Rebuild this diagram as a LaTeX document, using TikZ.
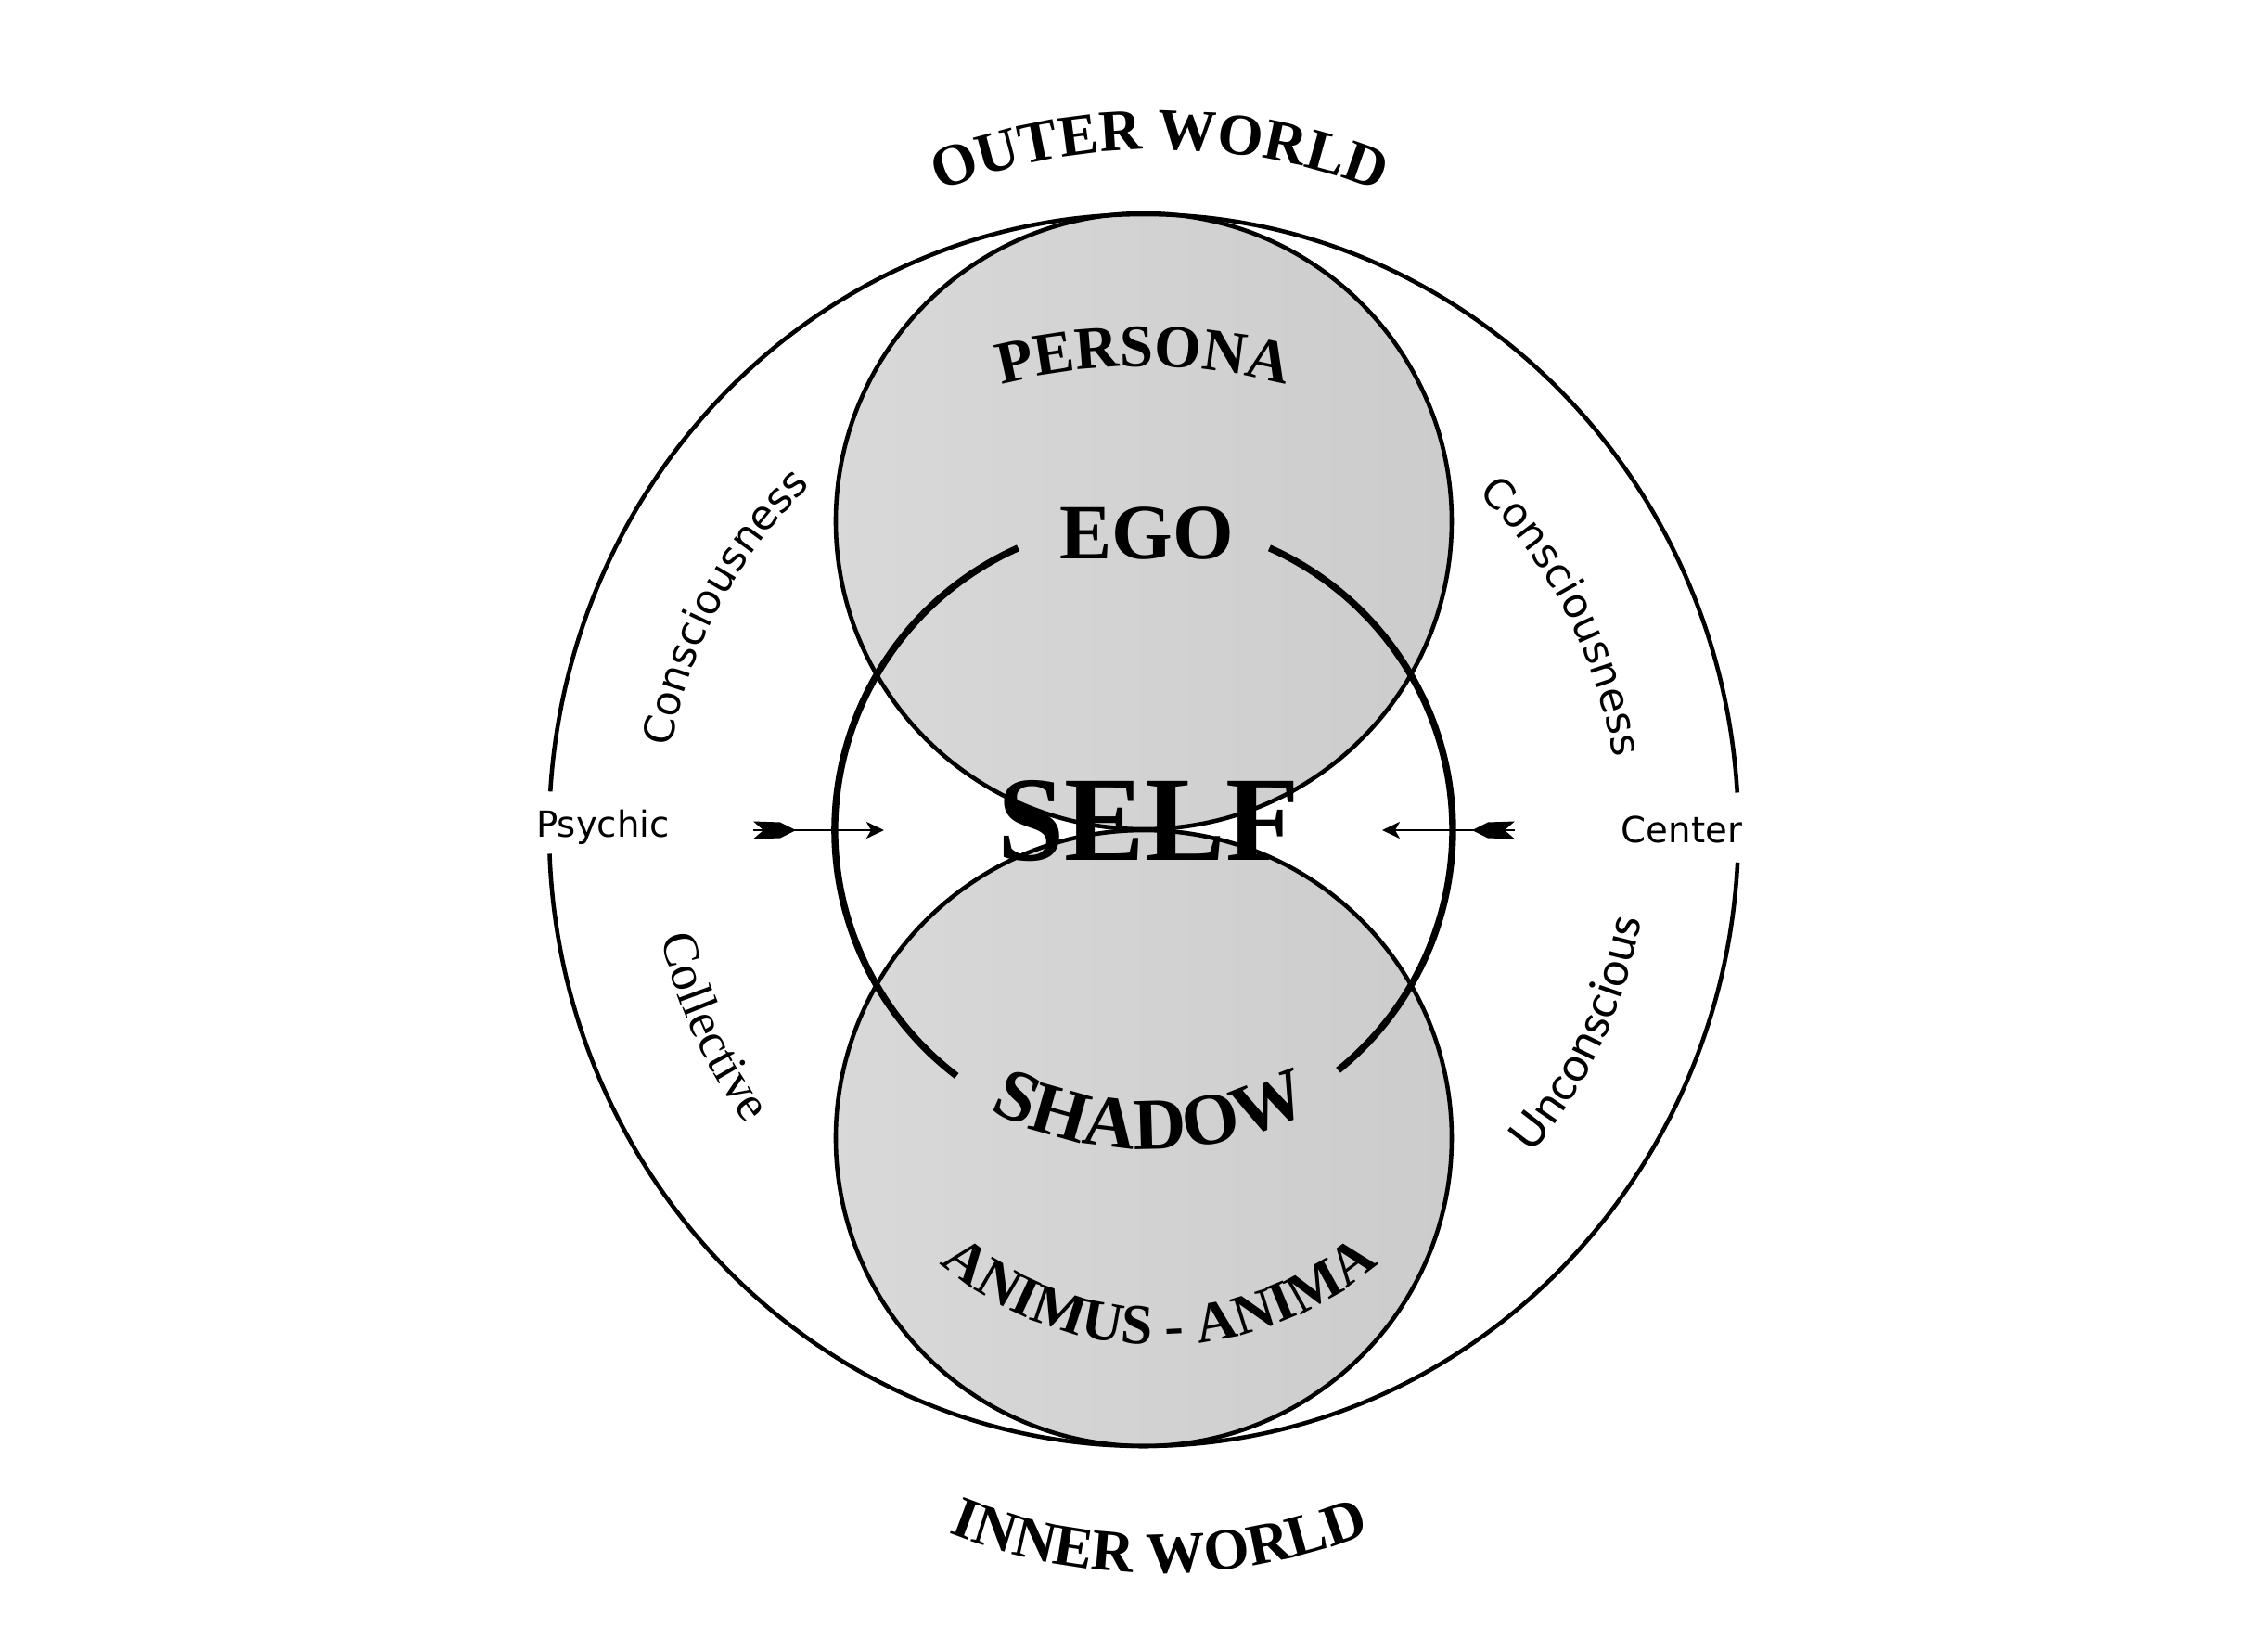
\documentclass[tikz,border=0pt]{standalone}
\usepackage{fontspec}
\setmainfont{Liberation Serif}
\newfontfamily\sanslabel{DejaVu Sans}
\newfontfamily\optlabel{Lato}
\usetikzlibrary{arrows.meta,decorations.text}

\newcommand\worldfont{\bfseries\fontsize{18}{22}\selectfont}
\newcommand\partfont{\bfseries\fontsize{18.5}{22}\selectfont}
\newcommand\shadowfont{\bfseries\fontsize{22.5}{26}\selectfont}
\newcommand\animafont{\bfseries\fontsize{17.5}{21}\selectfont}
\newcommand\levelfont{\sanslabel\fontsize{12.6}{15}\selectfont}

\begin{document}
\begin{tikzpicture}[
  ring/.style={line width=1.3pt},
  selfring/.style={line width=2.1pt},
  ball/.style={left color=gray!30, middle color=gray!9, right color=gray!40},
  pointer/.style={line width=0.7pt, -{Stealth[length=1.9mm,width=1.8mm,inset=0.5mm]}},
  side/.style={font=\sanslabel\fontsize{11}{13}\selectfont, anchor=base}
]
\useasboundingbox (-12.33,-8.85) rectangle (11.99,8.95);

\coordinate (o) at (0,0);
\coordinate (up) at (0,3.33);
\coordinate (down) at (0,-3.32);

% the two shaded spheres
\shade[ball] (up) circle[radius=3.32];
\shade[ball] (down) circle[radius=3.32];
\draw[ring] (up) circle[radius=3.32];
\draw[ring] (down) circle[radius=3.32];

% outer psyche, open at the sides
\draw[ring] (o) ++(3.5:6.41 and 6.64) arc[start angle=3.5, end angle=176.4, x radius=6.41, y radius=6.64];
\draw[ring] (o) ++(182.2:6.41 and 6.64) arc[start angle=182.2, end angle=357, x radius=6.41, y radius=6.64];

% self circle, open at ego and shadow
\draw[selfring] (o) ++(114:3.33) arc[start angle=114, end angle=232.7, radius=3.33];
\draw[selfring] (o) ++(-51:3.33) arc[start angle=-51, end angle=66, radius=3.33];

% arrows to the centre
\coordinate (ltail) at (-4.21,0);
\coordinate (lhead) at (-2.80,0);
\coordinate (rtail) at (4.00,0);
\coordinate (rhead) at (2.57,0);
\draw[pointer] (ltail) -- (lhead);
\draw[pointer] (rtail) -- (rhead);
\fill (ltail) ++(0,0.095) -- ++(0.29,-0.01) -- ++(0.17,-0.085) -- ++(-0.17,-0.085) -- ++(-0.29,-0.01) -- ++(0.11,0.095) -- cycle;
\fill (rtail) ++(0,0.095) -- ++(-0.29,-0.01) -- ++(-0.17,-0.085) -- ++(0.17,-0.085) -- ++(0.29,-0.01) -- ++(-0.11,0.095) -- cycle;

% straight labels
\node[anchor=base, font=\bfseries\fontsize{24}{28}\selectfont] (ego) at (0.03,2.93) {EGO};
\node[anchor=base, font=\bfseries\fontsize{37}{42}\selectfont] (self) at (0.05,-0.32) {SELF};
\node[side] (psychic) at (-5.83,-0.07) {Psychic};
\node[side] (center) at (5.80,-0.13) {Center};

% curved labels
\coordinate (ow) at (0.17,0.84);
\coordinate (pc) at (0,-1.2);
\coordinate (sc) at (0.07,0.36);
\coordinate (ac) at (0.17,-1.92);
\coordinate (iw) at (0.17,-1.85);
\path[decorate, decoration={text along path, text align=center, text={|\worldfont|OUTER WORLD}}]
  (ow) ++(125:6.5) arc[start angle=125, end angle=55, radius=6.5];
\path[decorate, decoration={text along path, text align=center, text={|\partfont|PERSONA}}]
  (pc) ++(120:6.2) arc[start angle=120, end angle=60, radius=6.2];
\path[decorate, decoration={text along path, text align=center, text={|\shadowfont|SHADOW}}]
  (sc) ++(235:3.8) arc[start angle=235, end angle=305, radius=3.8];
\path[decorate, decoration={text along path, text align=center, text={|\animafont|ANIMUS - ANIMA}}]
  (ac) ++(220:3.63) arc[start angle=220, end angle=320, radius=3.63];
\path[decorate, decoration={text along path, text align=center, text={|\worldfont|INNER WORLD}}]
  (iw) ++(240:6.16) arc[start angle=240, end angle=300, radius=6.16];

\path[decorate, decoration={text along path, text align=center, text={|\levelfont|Consciousness}}]
  (o) ++(182:5.17) arc[start angle=182, end angle=122, radius=5.17];
\path[decorate, decoration={text along path, text align=center, text={|\levelfont|Consciousness}}]
  (o) ++(57:5.12) arc[start angle=57, end angle=-3, radius=5.12];
\path[decorate, decoration={text along path, text align=center, text={|\fontsize{15.5}{18}\selectfont|Collective}}]
  (o) ++(174.5:5.33) arc[start angle=174.5, end angle=234.5, radius=5.33];
\path[decorate, decoration={text along path, text align=center, text={|\optlabel\fontsize{14.3}{17}\selectfont|Unconscious}}]
  (o) ++(-55:5.45) arc[start angle=-55, end angle=5, radius=5.45];
\end{tikzpicture}
\end{document}
